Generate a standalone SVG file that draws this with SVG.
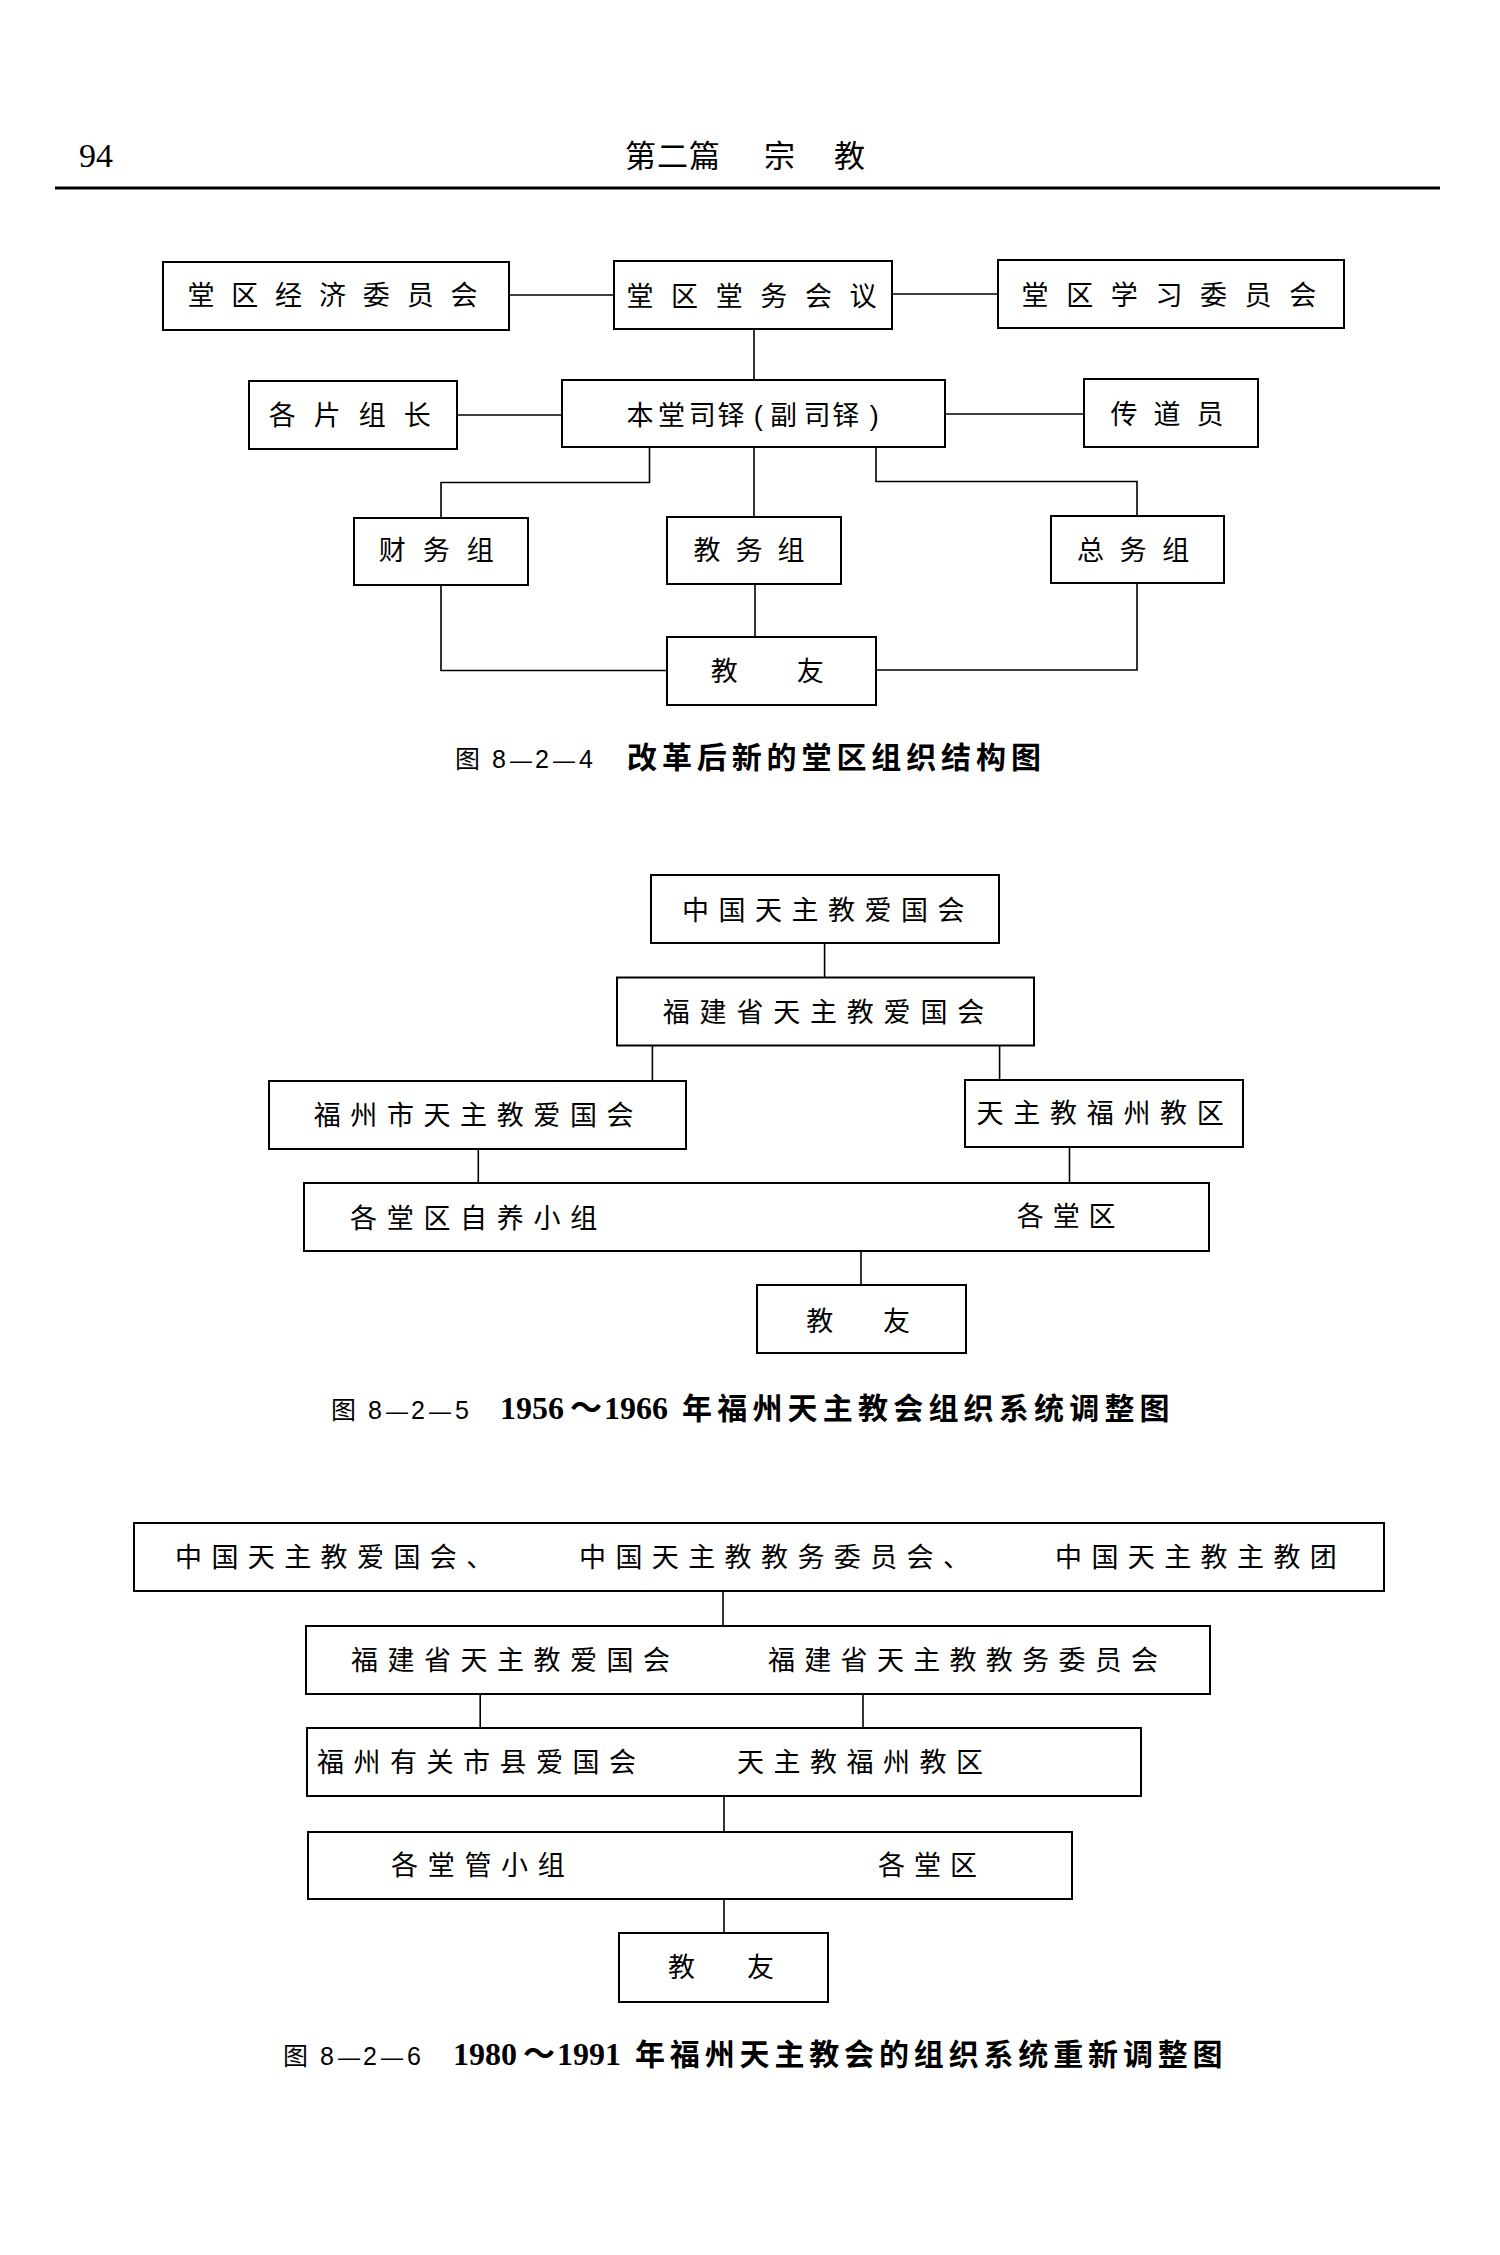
<svg xmlns="http://www.w3.org/2000/svg" width="1500" height="2255" viewBox="0 0 1500 2255">
<style>
.box{fill:none;stroke:#000;stroke-width:2}
.ln{fill:none;stroke:#000;stroke-width:1.6}
.t{font-family:"Noto Sans CJK SC","Liberation Sans",sans-serif;font-size:27px;fill:#000}
.tp{font-family:"Liberation Sans","Noto Sans CJK SC",sans-serif;font-size:27px;fill:#000}
.capl{font-family:"Noto Sans CJK SC",sans-serif;font-size:25px;fill:#000}
.capd{font-family:"Liberation Sans",sans-serif;font-size:25px;fill:#000}
.capdash{font-family:"Liberation Sans",sans-serif;font-size:22px;fill:#000}
.capn{font-family:"Liberation Serif",serif;font-size:32px;font-weight:bold;fill:#000}
.capt{font-family:"Noto Sans CJK SC",sans-serif;font-size:32px;font-weight:bold;fill:#000}
.capb{font-family:"Noto Sans CJK SC",sans-serif;font-size:30px;font-weight:bold;fill:#000}
</style>
<rect width="1500" height="2255" fill="#fff"/>
<g id="header">
<text x="79" y="167" style="font-family:'Liberation Serif',serif;font-size:34px">94</text>
<text y="167" style="font-family:'Noto Sans CJK SC',sans-serif;font-size:31px" letter-spacing="1"><tspan x="625">第二篇</tspan><tspan x="764">宗</tspan><tspan x="834">教</tspan></text>
<line x1="55" y1="188" x2="1440" y2="188" stroke="#000" stroke-width="3"/>
</g>

<!-- Figure 8-2-4 -->
<g id="fig1">
<g id="connectors-1">
<line class="ln" x1="509" y1="295" x2="614" y2="295"/>
<line class="ln" x1="892" y1="294" x2="998" y2="294"/>
<line class="ln" x1="754" y1="329" x2="754" y2="380"/>
<line class="ln" x1="457" y1="415" x2="562" y2="415"/>
<line class="ln" x1="945" y1="414" x2="1084" y2="414"/>
<polyline class="ln" points="649.5,447 649.5,482.5 441,482.5 441,518"/>
<line class="ln" x1="754" y1="447" x2="754" y2="517"/>
<polyline class="ln" points="876,447 876,481.5 1137,481.5 1137,516"/>
<polyline class="ln" points="441,585 441,670.5 667,670.5"/>
<line class="ln" x1="755" y1="584" x2="755" y2="637"/>
<polyline class="ln" points="1137,583 1137,670 876,670"/>
</g>
<g id="n-jingji"><rect class="box" x="163" y="262" width="346" height="68"/><text class="t" x="187.4" y="304.6" letter-spacing="16.85">堂区经济委员会</text></g>
<g id="n-tangwu"><rect class="box" x="614" y="261" width="278" height="68"/><text class="t" x="626.5" y="305.5" letter-spacing="17.6">堂区堂务会议</text></g>
<g id="n-xuexi"><rect class="box" x="998" y="260" width="346" height="68"/><text class="t" x="1021.6" y="304.6" letter-spacing="17.6">堂区学习委员会</text></g>
<g id="n-siduo"><rect class="box" x="562" y="380" width="383" height="67"/><text class="tp" x="626.5 658 688.7 717.4 753.7 770 803.5 832.2 869.7" y="425">本堂司铎(副司铎)</text></g>
<g id="n-pianzu"><rect class="box" x="249" y="381" width="208" height="68"/><text class="t" x="268.7" y="425" letter-spacing="18">各片组长</text></g>
<g id="n-chuandao"><rect class="box" x="1084" y="379" width="174" height="68"/><text class="t" x="1110.5" y="424.2" letter-spacing="16">传道员</text></g>
<g id="n-caiwu"><rect class="box" x="354" y="518" width="174" height="67"/><text class="t" x="378.7" y="560.4" letter-spacing="17">财务组</text></g>
<g id="n-jiaowu"><rect class="box" x="667" y="517" width="174" height="67"/><text class="t" x="693.4" y="560" letter-spacing="15.1">教务组</text></g>
<g id="n-zongwu"><rect class="box" x="1051" y="516" width="173" height="67"/><text class="t" x="1077" y="559.5" letter-spacing="15.6">总务组</text></g>
<g id="n-jiaoyou1"><rect class="box" x="667" y="637" width="209" height="68"/><text class="t" x="710.7 796.8" y="681">教友</text></g>
<g id="cap1"><text y="768"><tspan class="capl" x="455">图</tspan><tspan class="capd" x="492">8</tspan><tspan class="capdash" x="510">—</tspan><tspan class="capd" x="535">2</tspan><tspan class="capdash" x="553">—</tspan><tspan class="capd" x="579">4</tspan><tspan class="capb" x="627" letter-spacing="4.9">改革后新的堂区组织结构图</tspan></text></g>
</g>

<!-- Figure 8-2-5 -->
<g id="fig2">
<g id="connectors-2">
<line class="ln" x1="824.6" y1="943" x2="824.6" y2="977.5"/>
<line class="ln" x1="652.4" y1="1045.5" x2="652.4" y2="1081"/>
<line class="ln" x1="999.6" y1="1045.5" x2="999.6" y2="1080"/>
<line class="ln" x1="478.3" y1="1149" x2="478.3" y2="1183"/>
<line class="ln" x1="1069.5" y1="1147" x2="1069.5" y2="1183"/>
<line class="ln" x1="861" y1="1251" x2="861" y2="1285"/>
</g>
<g id="n-zg-aiguo"><rect class="box" x="651" y="875" width="348" height="68"/><text class="t" x="682" y="919.5" letter-spacing="9.5">中国天主教爱国会</text></g>
<g id="n-fj-aiguo"><rect class="box" x="617" y="977.5" width="417" height="68"/><text class="t" x="662.8" y="1022.3" letter-spacing="9.8">福建省天主教爱国会</text></g>
<g id="n-fz-aiguo"><rect class="box" x="269" y="1081" width="417" height="68"/><text class="t" x="313.7" y="1125.1" letter-spacing="9.6">福州市天主教爱国会</text></g>
<g id="n-fz-jiaoqu"><rect class="box" x="965" y="1080" width="278" height="67"/><text class="t" x="976.6" y="1123.1" letter-spacing="9.7">天主教福州教区</text></g>
<g id="n-tangqu2"><rect class="box" x="304" y="1183" width="905" height="68"/><text class="t" x="350" y="1228" letter-spacing="9.7">各堂区自养小组</text><text class="t" x="1016.8" y="1226" letter-spacing="8.9">各堂区</text></g>
<g id="n-jiaoyou2"><rect class="box" x="757" y="1285" width="209" height="68"/><text class="t" x="806.3 882.9" y="1330.7">教友</text></g>
<g id="cap2"><text y="1419"><tspan class="capl" x="331">图</tspan><tspan class="capd" x="368">8</tspan><tspan class="capdash" x="386">—</tspan><tspan class="capd" x="411">2</tspan><tspan class="capdash" x="429">—</tspan><tspan class="capd" x="455">5</tspan><tspan class="capn" x="500">1956</tspan><tspan class="capt" x="570">～</tspan><tspan class="capn" x="604">1966</tspan><tspan class="capb" x="682" letter-spacing="5.2">年福州天主教会组织系统调整图</tspan></text></g>
</g>

<!-- Figure 8-2-6 -->
<g id="fig3">
<g id="connectors-3">
<line class="ln" x1="723" y1="1591" x2="723" y2="1626"/>
<line class="ln" x1="480.2" y1="1694" x2="480.2" y2="1728"/>
<line class="ln" x1="863" y1="1694" x2="863" y2="1728"/>
<line class="ln" x1="724" y1="1796" x2="724" y2="1832"/>
<line class="ln" x1="724" y1="1899" x2="724" y2="1933"/>
</g>
<g id="n-national"><rect class="box" x="134" y="1523" width="1250" height="68"/><text class="t" x="175" y="1567" letter-spacing="9.4">中国天主教爱国会、</text><text class="t" x="579" y="1567" letter-spacing="9.4">中国天主教教务委员会、</text><text class="t" x="1055" y="1567" letter-spacing="9.4">中国天主教主教团</text></g>
<g id="n-province"><rect class="box" x="306" y="1626" width="904" height="68"/><text class="t" x="351" y="1670" letter-spacing="9.5">福建省天主教爱国会</text><text class="t" x="768" y="1670" letter-spacing="9.3">福建省天主教教务委员会</text></g>
<g id="n-city"><rect class="box" x="307" y="1728" width="834" height="68"/><text class="t" x="317" y="1772" letter-spacing="9.5">福州有关市县爱国会</text><text class="t" x="737" y="1772" letter-spacing="9.5">天主教福州教区</text></g>
<g id="n-tangqu3"><rect class="box" x="308" y="1832" width="764" height="67"/><text class="t" x="391" y="1875" letter-spacing="9.7">各堂管小组</text><text class="t" x="878" y="1875" letter-spacing="9">各堂区</text></g>
<g id="n-jiaoyou3"><rect class="box" x="619" y="1933" width="209" height="69"/><text class="t" x="668 747" y="1977">教友</text></g>
<g id="cap3"><text y="2065"><tspan class="capl" x="283">图</tspan><tspan class="capd" x="320">8</tspan><tspan class="capdash" x="338">—</tspan><tspan class="capd" x="363">2</tspan><tspan class="capdash" x="381">—</tspan><tspan class="capd" x="407">6</tspan><tspan class="capn" x="453">1980</tspan><tspan class="capt" x="523">～</tspan><tspan class="capn" x="557">1991</tspan><tspan class="capb" x="635" letter-spacing="4.85">年福州天主教会的组织系统重新调整图</tspan></text></g>
</g>
</svg>
